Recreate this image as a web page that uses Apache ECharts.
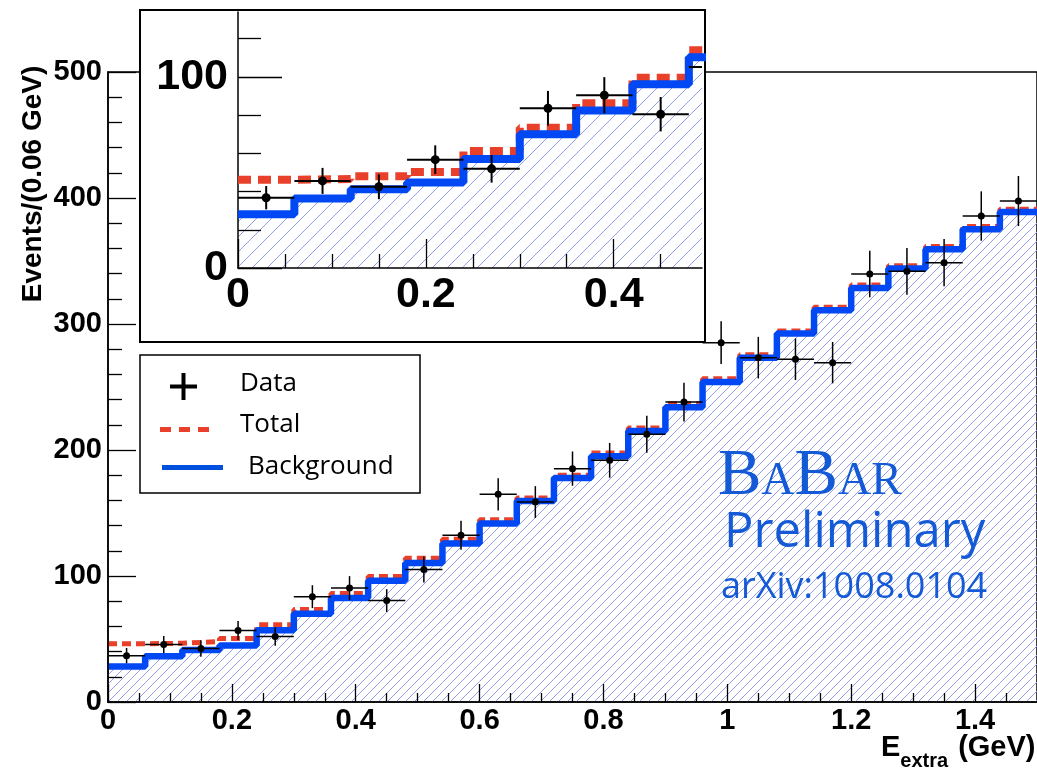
<!DOCTYPE html>
<html>
<head>
<meta charset="utf-8">
<script src="https://cdn.jsdelivr.net/npm/echarts@6/dist/echarts.min.js"></script>
<style>html,body{margin:0;padding:0;background:#fff}#c{width:1037px;height:769px}</style>
</head>
<body>
<div id="c"></div>
<script>
// ---------------- data ----------------
const binEdges = [0,0.06,0.12,0.18,0.24,0.30,0.36,0.42,0.48,0.54,0.60,0.66,0.72,0.78,0.84,0.90,0.96,1.02,1.08,1.14,1.20,1.26,1.32,1.38,1.44,1.50];
const binCenters = [0.03,0.09,0.15,0.21,0.27,0.33,0.39,0.45,0.51,0.57,0.63,0.69,0.75,0.81,0.87,0.93,0.99,1.05,1.11,1.17,1.23,1.29,1.35,1.41,1.47];
const binHalfWidth = 0.03;
const background = [28.1,36.4,41.2,44.8,57.0,70.0,82.5,96.2,110.3,125.7,141.6,159.5,177.8,195.0,215.0,234.0,254.0,273.3,292.4,310.9,328.6,344.0,359.3,375.2,388.9];
const total = [46.2,46.6,48.0,50.3,61.3,73.4,86.2,99.6,114.0,129.1,144.7,161.9,179.9,197.6,217.5,236.8,256.5,275.5,294.5,313.3,331.0,346.3,361.5,377.3,391.0];
const dataVals = [36.8,45.6,42.5,56.7,51.9,83.6,90.4,80.5,105.2,132.3,164.8,158.7,185.2,191.8,212.5,238.0,285.2,273.3,272.0,269.3,339.7,341.8,348.7,385.7,397.6];
const dataErr = [6.1,6.8,6.5,7.5,7.2,9.1,9.5,9.0,10.3,11.5,12.8,12.6,13.6,13.8,14.6,15.4,16.9,16.5,16.5,16.4,18.4,18.5,18.7,19.6,19.9];

const mainXMajor = [0,0.2,0.4,0.6,0.8,1.0,1.2,1.4];
const mainXMinor = [0.05,0.1,0.15,0.25,0.3,0.35,0.45,0.5,0.55,0.65,0.7,0.75,0.85,0.9,0.95,1.05,1.1,1.15,1.25,1.3,1.35,1.45];
const mainYMajor = [0,100,200,300,400,500];
const mainYMinor = [20,40,60,80,120,140,160,180,220,240,260,280,320,340,360,380,420,440,460,480];
const insetXMajor = [0,0.2,0.4];
const insetXMinor = [0.05,0.1,0.15,0.25,0.3,0.35,0.45];
const insetYMajor = [0,100];
const insetYMinor = [20,40,60,80,120];

// ---------------- styles ----------------
const BLUE = '#0048f4';
const RED = '#e8402a';
const TXTBLUE = '#1459d6';
const HATCH = 'rgb(146,158,236)';
const AX = 'Liberation Sans';

function stepData(vals) {
  return binEdges.map((e, i) => [e, vals[Math.min(i, vals.length - 1)]]);
}
const pointData = binCenters.map((c, i) => [c, dataVals[i], dataErr[i]]);

// hatched fill under the background histogram, clipped to the step outline
function hatchRender(spacing) {
  return function (params, api) {
    const cs = params.coordSys;
    const base = api.coord([0, 0])[1];
    const bins = background.map((v, i) => {
      const a = api.coord([binEdges[i], v]);
      const b = api.coord([binEdges[i + 1], v]);
      return [a[0], b[0], a[1]];
    });
    const H = base - cs.y;
    const children = [];
    for (let x0 = cs.x - H; x0 < cs.x + cs.width; x0 += spacing) {
      for (const [xa, xb, T] of bins) {
        const lo = Math.max(xa, x0);
        const hi = Math.min(xb, x0 + (base - T));
        if (hi > lo) {
          children.push({ type: 'line', shape: { x1: lo, y1: base - (lo - x0), x2: hi, y2: base - (hi - x0) },
            style: { stroke: HATCH, lineWidth: 1 } });
        }
      }
    }
    return { type: 'group', children: children };
  };
}

function errRender(lw, r) {
  return function (params, api) {
    const x = api.value(0), y = api.value(1), e = api.value(2);
    const c = api.coord([x, y]);
    const t = api.coord([x, y + e]);
    const b = api.coord([x, y - e]);
    const l = api.coord([x - binHalfWidth, y]);
    const rr = api.coord([x + binHalfWidth, y]);
    const st = { stroke: '#000', lineWidth: lw };
    return {
      type: 'group',
      children: [
        { type: 'line', shape: { x1: l[0], y1: l[1], x2: rr[0], y2: rr[1] }, style: st },
        { type: 'line', shape: { x1: t[0], y1: t[1], x2: b[0], y2: b[1] }, style: st },
        { type: 'circle', shape: { cx: c[0], cy: c[1], r: r }, style: { fill: '#000' } }
      ]
    };
  };
}

function axis(o) {
  return {
    type: 'value', gridIndex: o.grid, min: o.min, max: o.max, position: o.pos, z: o.z,
    axisLine: { show: o.line, onZero: false, lineStyle: { color: '#000', width: 1.5 } },
    axisTick: { show: true, inside: true, length: o.len, customValues: o.ticks, lineStyle: { color: '#000', width: 1.3 } },
    axisLabel: o.labels ? { show: true, customValues: o.ticks, margin: o.margin, color: '#000', fontFamily: AX, fontWeight: 'bold', fontSize: o.fs } : { show: false },
    splitLine: { show: false }
  };
}

const chart = echarts.init(document.getElementById('c'), null, { renderer: 'canvas' });
chart.setOption({
  backgroundColor: '#fff',
  animation: false,
  grid: [
    { left: 108, top: 72, width: 933, height: 630, show: true, borderColor: '#000', borderWidth: 1.5, backgroundColor: 'transparent' },
    { left: 238, top: 12, width: 464, height: 256, show: false, z: 55 }
  ],
  xAxis: [
    axis({ grid: 0, min: 0, max: 1.5, pos: 'bottom', z: 5, line: true, len: 18, ticks: mainXMajor, labels: true, margin: 4, fs: 29 }),
    axis({ grid: 0, min: 0, max: 1.5, pos: 'bottom', z: 5, line: false, len: 9, ticks: mainXMinor, labels: false }),
    axis({ grid: 1, min: 0, max: 0.494, pos: 'bottom', z: 60, line: true, len: 29, ticks: insetXMajor, labels: true, margin: 6, fs: 43 }),
    axis({ grid: 1, min: 0, max: 0.494, pos: 'bottom', z: 60, line: false, len: 14, ticks: insetXMinor, labels: false })
  ],
  yAxis: [
    axis({ grid: 0, min: 0, max: 500, pos: 'left', z: 5, line: true, len: 28, ticks: mainYMajor, labels: true, margin: 6, fs: 29 }),
    axis({ grid: 0, min: 0, max: 500, pos: 'left', z: 5, line: false, len: 14, ticks: mainYMinor, labels: false }),
    axis({ grid: 1, min: 0, max: 134, pos: 'left', z: 60, line: true, len: 44, ticks: insetYMajor, labels: true, margin: 10, fs: 43 }),
    axis({ grid: 1, min: 0, max: 134, pos: 'left', z: 60, line: false, len: 23, ticks: insetYMinor, labels: false })
  ],
  series: [
    // main
    { type: 'custom', xAxisIndex: 0, yAxisIndex: 0, z: 1, clip: true, data: [[0, 0]], renderItem: hatchRender(9) },
    { type: 'line', xAxisIndex: 0, yAxisIndex: 0, z: 2, data: stepData(total), step: 'end', symbol: 'none',
      lineStyle: { color: RED, width: 5, type: [9, 5], cap: 'butt' } },
    { type: 'line', xAxisIndex: 0, yAxisIndex: 0, z: 3, data: stepData(background), step: 'end', symbol: 'none',
      lineStyle: { color: BLUE, width: 6.5 } },
    { type: 'custom', xAxisIndex: 0, yAxisIndex: 0, z: 6, clip: true, data: pointData, renderItem: errRender(1.5, 3.5) },
    // inset
    { type: 'custom', xAxisIndex: 2, yAxisIndex: 2, z: 60, clip: true, data: [[0, 0]], renderItem: hatchRender(15) },
    { type: 'line', xAxisIndex: 2, yAxisIndex: 2, z: 61, data: stepData(total), step: 'end', symbol: 'none', clip: true,
      lineStyle: { color: RED, width: 8, type: [13, 7], cap: 'butt' } },
    { type: 'line', xAxisIndex: 2, yAxisIndex: 2, z: 62, data: stepData(background), step: 'end', symbol: 'none', clip: true,
      lineStyle: { color: BLUE, width: 8 } },
    { type: 'custom', xAxisIndex: 2, yAxisIndex: 2, z: 63, clip: true, data: pointData, renderItem: errRender(2, 4.5) }
  ],
  graphic: [
    // inset frame
    { type: 'rect', z: 50, shape: { x: 140, y: 10, width: 565, height: 332 }, style: { fill: '#fff', stroke: '#000', lineWidth: 2 } },
    // legend
    { type: 'rect', z: 50, shape: { x: 140, y: 355, width: 280, height: 138 }, style: { fill: '#fff', stroke: '#000', lineWidth: 1.5 } },
    { type: 'line', z: 51, shape: { x1: 170, y1: 386.5, x2: 197, y2: 386.5 }, style: { stroke: '#000', lineWidth: 4 } },
    { type: 'line', z: 51, shape: { x1: 183.5, y1: 373, x2: 183.5, y2: 400 }, style: { stroke: '#000', lineWidth: 4 } },
    { type: 'text', z: 51, x: 240, y: 384, style: { text: 'Data', font: '26px "Open Sans"', fill: '#000', verticalAlign: 'middle' } },
    { type: 'line', z: 51, shape: { x1: 160, y1: 429.5, x2: 213, y2: 429.5 }, style: { stroke: RED, lineWidth: 5, lineDash: [11, 8] } },
    { type: 'text', z: 51, x: 240, y: 425, style: { text: 'Total', font: '26px "Open Sans"', fill: '#000', verticalAlign: 'middle' } },
    { type: 'line', z: 51, shape: { x1: 162, y1: 467.5, x2: 223, y2: 467.5 }, style: { stroke: '#0050e0', lineWidth: 5 } },
    { type: 'text', z: 51, x: 248, y: 467, style: { text: 'Background', font: '26px "Open Sans"', fill: '#000', verticalAlign: 'middle' } },
    // axis titles
    { type: 'text', z: 10, x: 33, y: 184, rotation: Math.PI / 2, style: { text: 'Events/(0.06 GeV)', font: 'bold 28px "Liberation Sans"', fill: '#000', align: 'center', verticalAlign: 'middle' } },
    { type: 'text', z: 10, x: 881, y: 733, style: {
        text: '{e|E}{s|extra}{sp| }{e|(GeV)}', fill: '#000',
        rich: {
          e: { fontSize: 29, fontWeight: 'bold', fontFamily: AX, fill: '#000', verticalAlign: 'top', lineHeight: 30 },
          sp: { fontSize: 29, fontWeight: 'bold', fontFamily: AX, fill: '#000', verticalAlign: 'top', lineHeight: 30, width: 10 },
          s: { fontSize: 20, fontWeight: 'bold', fontFamily: AX, fill: '#000', verticalAlign: 'bottom', lineHeight: 38 }
        } } },
    // annotations
    { type: 'text', z: 10, x: 718, y: 509, style: {
        text: '{b|B}{s|A}{b|B}{s|AR}', verticalAlign: 'bottom', fill: TXTBLUE,
        rich: {
          b: { fontSize: 65, fontFamily: 'Liberation Serif', fill: TXTBLUE, verticalAlign: 'bottom' },
          s: { fontSize: 46, fontFamily: 'Liberation Serif', fill: TXTBLUE, verticalAlign: 'bottom', padding: [0, 0, 4, 0] }
        } } },
    { type: 'text', z: 10, x: 724, y: 533, style: { text: 'Preliminary', font: '49px "Open Sans"', fill: TXTBLUE, verticalAlign: 'middle' } },
    { type: 'text', z: 10, x: 721, y: 588, style: { text: 'arXiv:1008.0104', font: '36px "Open Sans"', fill: TXTBLUE, verticalAlign: 'middle' } }
  ]
});
</script>
</body>
</html>
